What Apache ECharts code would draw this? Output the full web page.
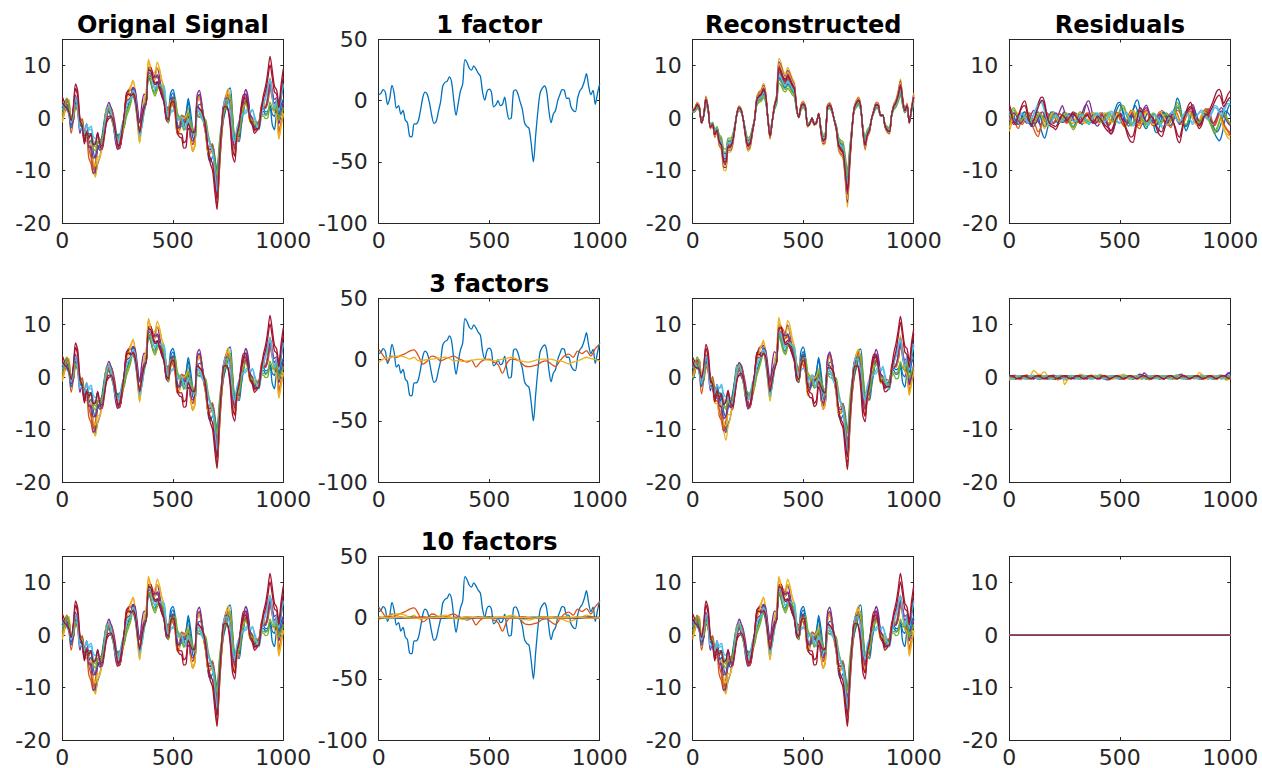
<!DOCTYPE html>
<html>
<head>
<meta charset="utf-8">
<title>Factor decomposition of multichannel signal</title>
<script src="https://cdn.jsdelivr.net/npm/echarts@6/dist/echarts.min.js"></script>
<style>
  html, body { margin: 0; padding: 0; background: #ffffff; }
  #chart { width: 1262px; height: 768px; }
</style>
</head>
<body>
<div id="chart"></div>
<script>
// ---- data -------------------------------------------------------------
// Sample spacing of the stored curves (samples 0..1000).
const SAMPLE_STEP = 10;

// First extracted factor (sample 0..1000, step 10).
const factor1 = [
  5, 6, 9, 7, -3, 2, 12.5, 6, -6, -4,
  -11, -8, -15.7, -18, -29, -29.5, -19, -19, -16, -7,
  3, 7, 5, -2, -12, -18.5, -17, -9, -1, 12,
  15, 16, 19.5, 15, 0, -12, -2, 8, 13.5, 33.5,
  31, 26.5, 25, 28.5, 26, 22.5, 20, 7, 0.5, 7.6,
  9.5, 7, -5, -3.5, 0, -4, -3, 2.9, -8, -15,
  -14, 7.6, 8.8, 5.5, -1, -7, -18, -21, -22.5, -35,
  -50, -29, -9, 6, 10, 12, 7.6, -8, -18, -11,
  -8, 0, 5, 9, 8.5, 2, 2, -5, -8, -9,
  2, 8, 10.5, 15.5, 22, 12, 5, 8.5, -3, 6,
  14
];

// Second and third factors (sample 0..1000, step 20).
const FACTOR_STEP = 20;
const factor2 = [
  8.7, 3.5, -1, 3, 2, 3.5, 5, 7, 8, 3,
  -3.5, -1, 3, 2, -1, 0.5, 2, 3, 1, -0.5,
  -2, -0.5, -6, -2, 0, 0.5, -2, -4, -11, -3,
  0.5, 0, -1.5, -5, -5.7, -5, -4, -1.5, -1, -3.5,
  -5.5, -1, 3, 4.5, 2, 7, 5, 7.4, 3, 9,
  12.8
];
const factor3 = [
  -2, 0.5, 1.5, 2, 3, 3, 2, 0.5, 2, -1,
  -0.5, 0, 0.5, 1, 1.5, 2, 1, -1, -0.5, -1.5,
  -1, -0.3, 0, 0.5, 0, -0.3, -1, -0.5, 0.5, 1,
  2, 1, -1, -1.5, -2, -1, 0, 0.5, 0.5, 0.5,
  -0.5, -1, -2, -3.5, -2, -1, 0.5, 2, 1, 0,
  -1
];

// Factors 4..10 (sample 0..1000, step 50).
const MINOR_STEP = 50;
const factor4 = [0.5, -0.3, 0.4, -0.6, 0.2, 0.5, -0.4, 0.3, -0.2, 0.6, -0.3, 0.2, -0.5, 0.4, 0, -0.4, 0.5, -0.2, 0.3, -0.5, 0.2];
const factor5 = [-0.4, 0.3, -0.2, 0.5, -0.3, 0.2, 0.4, -0.5, 0.3, -0.1, 0.4, -0.4, 0.2, -0.3, 0.5, -0.2, 0.3, 0.4, -0.4, 0.2, -0.3];
const factor6 = [0.2, -0.5, 0.3, 0.1, -0.4, 0.5, -0.2, 0.3, -0.4, 0.2, 0.3, -0.5, 0.4, -0.1, 0.2, -0.3, 0.4, -0.5, 0.2, 0.3, -0.2];
const factor7 = [-0.2, 0.4, -0.3, 0.2, 0.5, -0.4, 0.1, -0.3, 0.4, -0.2, 0.3, 0.1, -0.4, 0.5, -0.3, 0.2, -0.1, 0.3, -0.4, 0.4, 0.1];
const factor8 = [0.3, 0.1, -0.4, 0.3, -0.2, 0.4, -0.5, 0.2, 0.1, -0.3, 0.5, -0.2, 0.3, -0.4, 0.2, 0.4, -0.3, 0.1, -0.2, 0.5, -0.4];
const factor9 = [-0.3, 0.5, 0.2, -0.4, 0.3, -0.1, 0.4, -0.3, 0.5, -0.4, 0.1, 0.3, -0.2, 0.4, -0.5, 0.3, 0.2, -0.4, 0.5, -0.1, 0.3];
const factor10 = [0.4, -0.2, 0.5, -0.3, -0.5, 0.3, 0.2, -0.4, 0.6, 0.1, -0.3, 0.5, -0.2, 0.3, -0.4, 0.6, -0.3, 0.2, 0.4, -0.5, 0.1];

// Loading of each of the 14 channels on the first factor.
const loadings1 = [0.26, 0.29, 0.34, 0.32, 0.2, 0.24, 0.3, 0.23, 0.27, 0.31, 0.29, 0.22, 0.25, 0.28];

// Residual left after the 1-factor model, one list per channel (step 10).
const residual1Ch1 = [
  -1.5, -0.5, 0.8, 1.2, 0.2, -1, -0.5, 0.6, 1, 0,
  -1, -1.6, -0.8, 0.5, -1.5, -3, -3.8, -2.5, -0.5, 0.8,
  1.2, 0.4, -0.6, -0.2, 0.8, 1.2, 0.5, -0.5, -0.3, 0.6,
  1, 0.2, -0.8, -1.2, -0.4, 0.5, 0.8, 0.2, -0.6, -1,
  -0.5, 0.4, 1, 0.6, -0.4, -1.2, -0.8, 0.5, 1.8, 2.8,
  3, 2, 0.5, -1, -1.5, -0.5, 1.5, 3, 3.5, 2,
  0, -1.5, -2, -1, 0.3, -0.8, -2.5, -2.8, -1.5, 0.2,
  1, 0.5, -0.6, -0.3, 1, 2.2, 3.8, 3, 0.8, -1.2,
  -2.4, -1.5, 0, 1, 0.6, -0.5, -1.2, -0.4, 0.8, 1.2,
  0.5, -0.8, -2, -3, -3.8, -4.3, -3.5, -1.5, 0.5, 2,
  2.8
];
const residual1Ch2 = [
  0.5, 1, 0.2, -1.2, -2, -1, 0.5, 1.2, 0.6, -0.5,
  -1.2, -2, -3, -3.5, -2.2, -0.5, 0.8, 1, 0.2, -0.6,
  -1, -0.3, 0.5, 0.8, 0.2, -0.5, -0.8, -0.2, 0.6, 0.9,
  0.4, -0.4, -1, -0.6, 0.3, 1, 0.6, -0.3, -0.8, -0.4,
  0.4, 1, 0.8, -0.2, -1, -1.5, -0.8, 0.4, 1.2, 0.8,
  -0.2, -1, -1.6, -0.8, 0.5, 1.5, 1, -0.4, -1.6, -2,
  -1, 0.5, 1.6, 1.2, 0, -1, -1.5, -0.6, 0.6, 1.5,
  1, -0.2, -1.2, -1.8, -1, 0.4, 1.5, 1.2, 0, -1.2,
  -1.5, -0.5, 0.8, 1.5, 0.8, -0.6, -1.5, -1, 0.4, 1.4,
  1.8, 0.8, -0.8, -1.4, -0.5, 0.8, 0.4, -1, -2, -2.6,
  -3.4
];
const residual1Ch3 = [
  -2.5, -1.2, 0.2, 0.8, 0.2, -0.8, -0.2, 0.8, 1.2, 0.4,
  -0.6, -1, -0.4, 0.5, 0.2, -1.2, -2, -1, 0.4, 1,
  0.6, -0.2, -0.8, -0.4, 0.5, 1, 0.6, -0.4, -1.2, -0.8,
  0.2, 0.8, 0.5, -0.4, -1, -0.6, 0.2, 0.8, 0.6, -0.2,
  -0.8, -0.5, 0.4, 1, 0.6, -0.3, -0.8, -0.2, 0.6, 1,
  0.5, -0.5, -1.2, -1.5, -0.6, 0.8, 1.6, 1, -0.4, -1.2,
  -0.6, 0.6, 1.4, 0.8, -0.4, -1, -0.5, 0.5, 1.2, 0.6,
  -0.4, -1.2, -0.8, 0.2, 1, 1.5, 0.8, -0.3, -1, -0.6,
  0.3, 1, 1.4, 0.6, -0.6, -1.4, -1, 0.2, 1, 1.6,
  1, -0.2, -1, -0.8, 0.2, 0.8, -0.4, -1.8, -3, -3.8,
  -4
];
const residual1Ch4 = [
  0.5, -0.5, -1.2, -0.6, 0.4, 1, 0.4, -0.5, -1, -0.2,
  0.8, 1.5, 0.8, -0.5, -1.2, -0.6, 0.4, 1, 0.5, -0.4,
  -1, -0.6, 0.4, 1.5, 2.4, 1.2, -0.2, -0.8, -0.4, 0.3,
  0.6, 0.2, -0.4, 0.2, 1.5, 3, 3.3, 2, 0, -1.2,
  -1.5, -0.8, 0.2, 0.5, -0.5, -2, -3, -2.5, -1, 0.5,
  1, 0.6, -0.4, -1, -0.4, 0.5, 0.2, -0.8, -1.2, -0.2,
  1, 2, 2.5, 1.5, 0, -1, -0.8, 0.4, 1, 0.4,
  -0.6, -1.2, -0.6, 0.4, 1, 0.6, -0.4, -1.2, -0.8, 0.4,
  1.2, 1.8, 2.2, 2.6, 1.5, 0, -1, -0.6, 0.5, 1,
  0.6, -0.6, -1.5, -1, 0.4, 1.5, 2, 1.2, 0, -1,
  -1.4
];
const residual1Ch5 = [
  0.5, 1.5, 2, 1.2, 0, -0.8, -0.6, 0.4, 1, 0.4,
  -0.5, -1, -0.4, 0.5, 1, 0.4, -0.6, -1.2, -0.8, 0.2,
  0.8, 0.4, -0.4, -0.8, -0.2, 0.6, 0.3, -0.8, -1.6, -2.2,
  -1.6, -0.4, 0.6, 1, 0.4, -0.6, -1.2, -0.6, 0.4, 1,
  0.6, -0.2, -0.8, -0.3, 0.6, 1.2, 0.6, -0.6, -1, 0.2,
  1.5, 2.5, 2.2, 0.8, -0.6, -1.5, -1, 0.4, 1.4, 1,
  0, -1, -1.6, -1, 0.2, 1, 0.6, -0.6, -1.4, -1,
  0.2, 1, 0.6, -0.6, -0.2, 1.5, 3, 2.2, 0.4, -1,
  -1.5, -0.6, 0.6, 1, 0.2, -0.8, -1.2, -0.4, 0.6, 0.8,
  0, -1.2, -2.2, -3, -2.2, -0.8, 0.6, 1.2, 0.6, -0.4,
  -1.2
];
const residual1Ch6 = [
  1, 0.4, -0.6, -1, -0.4, 0.6, 1, 0.4, -0.6, -1,
  -0.4, 0.8, 1.8, 2.8, 3.5, 3.2, 1.6, -0.4, -1.5, -1,
  0, 0.8, 0.5, -0.3, -0.8, -0.2, 0.6, 0.9, 0.4, -0.4,
  -0.8, -0.4, 0.4, 0.8, 0.3, -0.6, -1.2, -0.8, 0.2, 0.8,
  1, 0.4, -0.5, -1, -0.4, 0.6, 1.4, 1, 0, -0.8,
  -1, -0.2, 0.8, 1.2, 0.4, -0.8, -1.5, -1, 0.2, 1,
  0.8, -0.2, -1, -1.4, -0.6, 0.4, 0.8, 0.2, -1, -1.8,
  -2, -1.2, 0, 1, 1.4, 0.6, -0.6, -1, -0.2, 0.8,
  1.4, 0.8, -0.4, -1.2, -0.6, 0.4, 1.2, 1.6, 1, 0.2,
  -0.2, 0.6, 1.6, 2.4, 2.2, 1.4, 1, 1.8, 2.8, 3.4,
  3.2
];
const residual1Ch7 = [
  2.6, 1.2, -0.8, -1.2, 0.2, 1.6, 2.8, 3.3, 1.8, -0.4,
  -1.6, -0.8, 0.8, 2.5, 3.8, 4, 3, 0.6, -1.2, -1.6,
  -1.8, -2.2, -1.4, -0.2, 0.6, 0.2, -0.6, -0.2, 0.8, 1.2,
  0.6, -0.4, -1, -0.5, 0.4, 0.8, 0.3, -0.6, -1, -0.4,
  0.4, 0.2, -0.8, -1.6, -2.2, -2.6, -3, -2.2, -0.8, 0.4,
  0.8, 0, -1.2, -2.5, -3.8, -4.5, -4.6, -2.8, 0, 2,
  1.6, 0.2, -0.8, -0.4, 0.6, 0.2, -1.2, -2.4, -3.2, -3.5,
  -2.4, -0.8, 0.4, 0.8, -0.4, -2, -4, -4.7, -3, -0.6,
  1.2, 2.4, 3, 1.8, 0, -1.2, -2, -1.4, 0, 1,
  1.2, 2, 3, 4.2, 5.2, 5.5, 4.6, 2.8, 3.6, 4.6,
  5.2
];
const residual1Ch8 = [
  0.8, 1.4, 0.6, -0.6, -1.2, -0.4, 0.8, 1.2, 0.2, -1,
  -1.4, -0.6, 0.6, 1.2, 0.4, -0.8, -1.6, -1, 0.4, 1.2,
  0.8, -0.2, -1, -0.8, 0.2, 1, 0.8, -0.2, -1.2, -1.6,
  -0.8, 0.4, 1.2, 0.8, -0.2, -0.8, -0.4, 0.4, 1, 0.6,
  -0.2, -0.8, -0.6, 0.2, 0.8, 0.4, -0.6, -0.4, 0.8, 2,
  2.6, 1.6, 0, -1.2, -0.8, 0.6, 1.6, 2.4, 1.4, -0.2,
  -1.2, -0.6, 0.6, 1.2, 0.4, -0.8, -1.6, -1.2, 0, 0.8,
  1.2, 0.4, -0.8, -1.4, -0.6, 0.8, 2, 1.6, 0.2, -1,
  -1.6, -0.8, 0.4, 1.2, 0.8, -0.4, -1.2, -0.6, 0.6, 1.4,
  1.2, 0, -1.2, -2.2, -2.6, -2, -0.8, 0.6, 1.4, 1,
  0.4
];
const residual1Ch9 = [
  -1, -0.4, 0.6, 1, 0.2, -0.8, -1.2, -0.4, 0.6, 1,
  0.6, -0.4, -1.6, -2.6, -2, -0.6, 0.6, 1, 0.4, -0.4,
  -0.8, -0.2, 0.6, 0.8, 0.2, -0.6, -1, -0.4, 0.4, 0.8,
  0.6, -0.2, -0.8, -0.6, 0.2, 0.8, 1, 0.4, -0.4, -0.8,
  -0.4, 0.4, 0.8, 0.4, -0.4, -1, -0.6, 0.4, 1.2, 1,
  0, -1, -1.4, -0.6, 0.6, 1.2, 0.6, -0.6, -1.4, -1,
  0.2, 1.2, 1.4, 0.4, -0.8, -1.4, -0.8, 0.4, 1.2, 0.8,
  -0.2, -1, -1.4, -0.6, 0.6, 1.2, 0.8, -0.4, -1.2, -0.8,
  0.2, 1, 1.4, 0.6, -0.6, -1.2, -0.6, 0.6, 1.4, 1.8,
  1.2, 0.2, -0.8, -1.2, -0.4, 0.6, 0.2, -1, -1.8, -2.4,
  -2.8
];
const residual1Ch10 = [
  -1.8, -0.6, 0.8, 1.4, 0.6, -0.4, -0.8, 0, 0.8, 0.6,
  -0.2, -0.8, -0.2, 0.8, 1, 0, -1.4, -1.6, -0.4, 0.8,
  1, 0.2, -0.6, -0.8, 0, 0.8, 1, 0.2, -0.8, -1,
  -0.2, 0.8, 1.2, 0.4, -0.6, -1, -0.4, 0.6, 1, 0.4,
  -0.6, -1, -0.2, 0.8, 1, 0.2, -0.6, -0.8, 0, 0.8,
  0.6, -0.4, -1, -0.8, 0.2, 1.2, 1.4, 0.4, -0.8, -1.4,
  -0.8, 0.4, 1.2, 1, -0.2, -1.2, -1, 0.2, 1, 0.8,
  -0.2, -1, -1.2, -0.2, 0.8, 1.2, 0.4, -0.6, -1.2, -0.4,
  0.6, 1.2, 0.8, -0.2, -1, -1.2, -0.4, 0.6, 1.2, 1,
  0.2, -0.6, -1.2, -0.6, 0.4, 0.6, -0.6, -2, -2.8, -3.2,
  -3.4
];
const residual1Ch11 = [
  -0.6, 0.4, 1, 0.6, -0.4, -1, -0.6, 0.4, 1, 0.6,
  -0.2, -0.8, -1, -0.2, 0.8, 1.2, 0.4, -0.6, -1, -0.4,
  0.4, 1, 0.6, -0.2, -0.8, -0.6, 0.2, 0.8, 0.6, -0.2,
  -0.8, -0.6, 0.2, 1, 2.2, 2.6, 1.6, 0.2, -0.8, -1,
  -0.6, 0.2, 0.6, 0, -1, -1.8, -2.4, -1.8, -0.6, 0.4,
  0.8, 0.4, -0.4, -0.8, -0.2, 0.6, 0.4, -0.4, -0.8, 0,
  0.8, 1.6, 2, 1.2, 0, -0.8, -0.6, 0.2, 0.8, 0.4,
  -0.4, -1, -0.6, 0.2, 0.8, 0.4, -0.4, -1, -0.6, 0.2,
  0.8, 1.4, 1.8, 2, 1.2, 0.2, -0.6, -0.4, 0.4, 0.8,
  0.4, -0.4, -1, -0.6, 0.2, 1, 1.4, 0.8, -0.2, -0.8,
  -1
];
const residual1Ch12 = [
  -0.4, 0.8, 1.6, 1, 0.2, -0.4, -0.2, 0.6, 0.8, 0.2,
  -0.6, -0.8, -0.2, 0.6, 0.8, 0.2, -0.4, -0.8, -0.6, 0,
  0.6, 0.6, 0, -0.6, -0.4, 0.4, 0.6, -0.2, -1.2, -1.8,
  -1.2, -0.2, 0.6, 0.8, 0.2, -0.4, -0.8, -0.4, 0.4, 0.8,
  0.4, -0.4, -0.8, -0.2, 0.6, 1, 0.4, -0.6, -0.8, 0.4,
  1.2, 2, 1.8, 0.6, -0.4, -1.2, -0.8, 0.4, 1, 0.6,
  -0.2, -0.8, -1.2, -0.6, 0.4, 0.8, 0.4, -0.4, -1, -0.6,
  0.4, 0.8, 0.4, -0.4, 0, 1.2, 2.4, 1.8, 0.2, -0.8,
  -1.2, -0.4, 0.6, 0.8, 0, -0.6, -0.8, -0.2, 0.6, 0.6,
  -0.2, -1, -1.8, -2.4, -1.8, -0.6, 0.4, 0.8, 0.2, -0.6,
  -1
];
const residual1Ch13 = [
  1.4, 0.6, -0.4, -0.8, -0.2, 0.6, 0.8, 0.2, -0.6, -0.8,
  -0.2, 0.6, 1.6, 2.4, 3, 2.6, 1.2, -0.2, -1.2, -0.8,
  0.2, 0.6, 0.2, -0.4, -0.6, 0, 0.6, 0.6, 0, -0.6,
  -0.6, -0.2, 0.4, 0.6, 0, -0.6, -1, -0.6, 0.2, 0.6,
  0.8, 0.2, -0.6, -0.8, -0.2, 0.6, 1, 0.6, -0.2, -0.6,
  -0.8, 0, 0.6, 0.8, 0.2, -0.6, -1.2, -0.8, 0.2, 0.8,
  0.6, -0.2, -0.8, -1, -0.4, 0.4, 0.6, 0, -0.8, -1.4,
  -1.6, -0.8, 0.2, 0.8, 1, 0.4, -0.4, -0.8, 0, 0.6,
  1, 0.4, -0.4, -0.8, -0.2, 0.6, 1, 1.2, 0.6, 0,
  -0.4, 0.4, 1.2, 2, 1.8, 1, 0.6, 1.2, 2.2, 2.8,
  2.6
];
const residual1Ch14 = [
  1.8, 0.6, -0.6, -0.8, 0.4, 1.4, 2.2, 2.4, 1.2, -0.4,
  -1.2, -0.4, 0.8, 2, 3, 3.4, 2.4, 0.4, -0.8, -1.2,
  -1.4, -1.6, -1, 0, 0.6, 0.2, -0.4, 0, 0.6, 0.8,
  0.4, -0.2, -0.8, -0.4, 0.2, 0.6, 0.2, -0.4, -0.8, -0.2,
  0.4, 0, -0.6, -1.2, -1.6, -2, -2.4, -1.6, -0.4, 0.4,
  0.6, -0.2, -1, -2, -3, -3.6, -3.4, -1.8, 0.2, 1.4,
  1.2, 0, -0.6, -0.2, 0.4, 0, -1, -1.8, -2.4, -2.6,
  -1.6, -0.4, 0.4, 0.4, -0.6, -1.6, -3, -3.6, -2.2, -0.2,
  1, 1.8, 2.2, 1.2, -0.2, -1, -1.4, -0.8, 0.2, 0.6,
  0.8, 1.4, 2.2, 3.2, 4, 4.4, 3.6, 2.2, 2.8, 3.6,
  4
];

// Residual left after the 3-factor model, one list per channel (step 10).
const residual3Ch1 = [
  0.4, 0.2, -0.2, -0.3, 0, 0.2, 0.1, -0.2, -0.3, 0, 0.2, 0.3, 0, -0.3, -0.4, -0.1, 0.2, 0.3, 0.1, -0.2,
  -0.3, 0, 0.3, 0.2, -0.1, -0.3, -0.2, 0.1, 0.3, 0.2, 0, -0.2, -0.3, 0, 0.2, 0.3, 0.1, -0.2, -0.2, 0,
  0.2, 0.1, -0.1, -0.3, -0.2, 0.1, 0.3, 0.2, 0, -0.2, -0.3, -0.1, 0.2, 0.3, 0.1, -0.2, -0.3, 0, 0.2, 0.3,
  0.1, -0.2, -0.3, -0.1, 0.2, 0.3, 0, -0.2, -0.1, 0.2, 0.3, 0.1, -0.2, -0.3, 0, 0.3, 0.4, 0.1, -0.2, -0.3,
  -0.1, 0.2, 0.3, 0, -0.2, -0.1, 0.2, 0.3, 0.1, -0.2, -0.3, 0, 0.2, 0.3, 0.1, -0.2, -0.3, -0.1, 0.2, 0.4,
  0.3
];
const residual3Ch2 = [
  -0.3, -0.4, -0.1, 0.2, 0.3, 0.1, -0.2, -0.3, 0, 0.2, 0.3, 0.1, -0.2, -0.4, -0.2, 0.1, 0.3, 0.2, -0.1, -0.3,
  -0.2, 0.1, 0.3, 0.2, -0.1, -0.2, 0, 0.2, 0.1, -0.2, -0.3, 0, 0.3, 0.2, -0.1, -0.3, -0.2, 0.1, 0.3, 0.1,
  -0.2, -0.3, 0, 0.2, 0.3, 0.1, -0.2, -0.3, -0.1, 0.2, 0.3, 0.1, -0.2, -0.2, 0.1, 0.3, 0.2, -0.1, -0.3, -0.2,
  0.1, 0.3, 0.2, -0.1, -0.3, -0.2, 0.1, 0.2, 0, -0.2, -0.3, 0, 0.2, 0.3, 0.1, -0.2, -0.3, -0.1, 0.2, 0.3,
  0.1, -0.2, -0.3, 0, 0.2, 0.2, 0, -0.2, -0.3, 0, 0.2, 0.3, 0.1, -0.2, -0.3, 0, 0.2, 0.3, 0, -0.3,
  -0.2
];
const residual3Ch3 = [
  -0.6, -0.3, 0.2, 0.4, 0, -0.5, -0.3, 0.3, 0.5, 0.2, 0.6, 1.3, 1, 0.5, 0.3, 0.8, 1, 0.4, -0.2, 0.3,
  0.5, 0, -0.6, -0.2, 0.4, -1.4, -0.8, 0.2, 0.4, 0, -0.3, 0.2, 0.6, 0.4, -0.2, -0.3, 0.1, 0.5, 0.2, -0.2,
  0.3, 0.6, 0.4, -0.1, -0.4, -0.2, 0.2, 0.1, -0.3, -0.2, 0.2, 0.5, 0.6, 0.1, -0.3, -0.4, 0, 0.3, 0.2, -0.2,
  -0.4, 0, 0.3, -0.5, -0.4, 0.2, 0.4, 0, -0.3, -0.2, 0.2, 0.3, -0.1, -0.3, 0, 0.3, 0.5, 0.2, -0.2, -0.3,
  -0.1, 0.3, 0.2, -0.1, 0, 0.4, 0.9, 0.5, -0.1, -0.3, -0.2, 0.2, 0.4, 0.1, -0.3, -0.2, 0.2, 0.3, -0.6, -0.4,
  -0.2
];
const residual3Ch4 = [
  0.2, 0, -0.2, -0.3, 0, 0.3, 0.2, -0.1, -0.3, -0.2, 0.1, 0.3, 0.2, -0.1, -0.3, -0.2, 0.1, 0.2, 0, -0.2,
  -0.3, -0.1, 0.2, 0.3, 0.1, -0.2, -0.3, 0, 0.2, 0.1, -0.1, -0.3, -0.2, 0.1, 0.3, 0.2, -0.1, -0.3, -0.1, 0.2,
  0.3, 0.1, -0.2, -0.3, -0.5, -0.3, 0.1, 0.3, 0.2, -0.1, -0.3, -0.2, 0.1, 0.3, 0.2, -0.1, -0.3, -0.1, 0.2, 0.5,
  0.4, 0.8, 0.5, 0.1, -0.2, -0.3, 0, 0.2, 0.1, -0.2, -0.3, -0.1, 0.2, 0.3, 0, -0.2, 0.1, 0.5, 0.6, 0.2,
  -0.2, -0.3, 0, 0.2, 0.3, 0, -0.2, -0.3, -0.1, 0.2, 0.3, 0.1, -0.2, -0.3, 0, 0.3, 0.4, 0.2, 0.3, 0.7,
  1
];
const residual3Ch5 = [
  -0.2, 0.2, 0.4, 0.2, -0.1, -0.3, -0.2, 0.1, 0.3, 0.2, -0.1, -0.3, -0.2, 0.1, 0.3, 0.2, -0.1, -0.3, -0.4, -0.2,
  0.1, 0.3, 0.2, -0.1, -0.3, -0.2, 0.1, 0.3, 0.2, 0, -0.2, -0.3, 0, 0.2, 0.3, 0.1, -0.2, -0.3, -0.1, 0.2,
  0.3, 0.2, -0.1, -0.3, -0.2, 0.1, 0.3, 0.2, -0.1, -0.2, 0.1, 0.3, 0.2, -0.1, -0.3, -0.2, 0.1, 0.3, 0.1, -0.2,
  -0.3, -0.1, 0.2, 0.3, 0.1, -0.2, -0.3, 0, 0.2, 0.3, 0.1, -0.2, -0.3, -0.1, 0.2, 0.3, 0.1, -0.2, -0.3, -0.1,
  0.2, 0.3, 0.1, -0.2, -0.3, 0, 0.2, 0.3, 0.1, -0.2, -0.3, -0.1, 0.2, 0.3, 0.1, -0.2, -0.3, 0, 0.2, 0.1,
  -0.2
];
const residual3Ch6 = [
  0.1, -0.2, -0.3, 0, 0.2, 0.3, 0.1, -0.2, -0.4, -0.1, 0.2, 0.4, 0.1, -0.2, -0.3, -0.1, 0.2, 0.3, 0.2, -0.1,
  -0.3, -0.2, 0.1, 0.4, 0.2, -0.1, -0.3, -0.2, 0.1, 0.2, 0.1, -0.2, -0.4, -0.1, 0.2, 0.3, 0.1, -0.2, -0.3, 0,
  0.2, 0.4, 0.1, -0.2, -0.3, -0.1, 0.2, 0.3, 0.1, -0.2, -0.4, -0.1, 0.2, 0.3, 0.1, -0.2, -0.3, -0.1, 0.2, 0.4,
  0.1, -0.2, -0.3, 0, 0.2, 0.3, 0.1, -0.2, -0.4, -0.1, 0.2, 0.3, 0.1, -0.2, -0.3, -0.1, 0.2, 0.4, 0.1, -0.2,
  -0.3, -0.1, 0.2, 0.3, 0.1, -0.2, -0.4, -0.1, 0.2, 0.3, 0.1, -0.2, -0.3, -0.1, 0.2, 0.4, 0.1, -0.2, -0.3, -0.1,
  0.2
];
const residual3Ch7 = [
  0.3, 0.1, -0.2, -0.3, -0.1, 0.2, 0.3, 0.2, -0.1, -0.3, -0.2, 0.1, 0.3, 0.2, -0.1, -0.3, -0.2, 0.1, 0.2, 0,
  -0.3, -0.4, -0.1, 0.2, 0.3, 0.1, -0.2, -0.3, 0, 0.2, 0.3, 0.1, -0.2, -0.3, -0.1, 0.2, 0.3, 0.1, -0.2, -0.2,
  0.1, 0.3, 0.2, -0.1, -0.3, -0.2, 0.1, 0.3, 0.2, -0.1, -0.3, -0.2, 0.1, 0.3, 0.2, -0.1, -0.3, -0.1, 0.2, 0.3,
  0.2, -0.1, -0.3, -0.2, 0.1, 0.3, 0.2, -0.1, -0.3, -0.1, 0.2, 0.3, 0.1, -0.2, -0.3, -0.1, 0.2, 0.3, 0.1, -0.2,
  -0.3, -0.2, 0.1, 0.3, 0.2, -0.1, -0.3, -0.1, 0.2, 0.3, 0.1, -0.2, -0.3, -0.1, 0.2, 0.3, 0.2, -0.1, -0.3, -0.1,
  0.2
];
const residual3Ch8 = [
  -0.2, 0.1, 0.3, 0.2, -0.1, -0.3, -0.1, 0.2, 0.3, 0.1, -0.2, -0.3, 0, 0.2, 0.3, 0, -0.2, -0.3, -0.1, 0.2,
  0.3, 0.1, -0.2, -0.3, 0, 0.3, 0.2, -0.1, -0.3, -0.1, 0.2, 0.3, 0.1, -0.2, -0.3, 0, 0.2, 0.3, 0.1, -0.2,
  -0.3, -0.1, 0.2, 0.3, 0.1, -0.2, -0.2, 0.1, 0.3, 0.2, -0.1, -0.3, -0.2, 0.1, 0.3, 0.1, -0.2, -0.3, 0, 0.2,
  0.3, 0.1, -0.2, -0.3, -0.1, 0.2, 0.3, 0.1, -0.2, -0.3, 0, 0.2, 0.3, 0, -0.2, -0.3, -0.1, 0.2, 0.3, 0.1,
  -0.2, -0.3, 0, 0.2, 0.3, 0.1, -0.2, -0.3, -0.1, 0.2, 0.3, 0.1, -0.2, -0.3, 0, 0.2, 0.3, 0.1, -0.2, -0.3,
  -0.1
];
const residual3Ch9 = [
  0.2, 0.3, 0, -0.2, -0.3, -0.1, 0.2, 0.3, 0.1, -0.2, -0.3, -0.1, 0.2, 0.4, 0.2, -0.1, -0.3, -0.2, 0.1, 0.3,
  0.2, -0.1, -0.3, -0.2, 0.1, 0.3, 0.1, -0.2, -0.3, 0, 0.2, 0.3, 0.1, -0.2, -0.3, -0.1, 0.2, 0.3, 0, -0.2,
  -0.3, 0, 0.2, 0.3, 0.1, -0.2, -0.3, -0.1, 0.2, 0.3, 0.1, -0.2, -0.4, -0.1, 0.2, 0.3, 0.1, -0.2, -0.3, 0,
  0.2, 0.3, 0, -0.2, -0.3, -0.1, 0.2, 0.3, 0.1, -0.2, -0.3, -0.1, 0.2, 0.3, 0.1, -0.2, -0.3, 0, 0.2, 0.3,
  0.1, -0.2, -0.3, -0.1, 0.2, 0.3, 0.1, -0.2, -0.3, 0, 0.2, 0.3, 0.1, -0.2, -0.3, -0.1, 0.2, 0.3, 0.1, -0.2,
  -0.3
];
const residual3Ch10 = [
  -0.3, 0, 0.3, 0.2, -0.2, -0.4, -0.1, 0.3, 0.4, 0.1, -0.2, -0.3, 0.1, 0.5, 0.6, 0.2, -0.2, -0.3, 0, 0.3,
  0.2, -0.2, -0.4, -0.1, 0.2, -0.5, -0.6, -0.1, 0.3, 0.2, -0.1, -0.2, 0.2, 0.5, 0.3, -0.1, -0.3, -0.1, 0.3, 0.4,
  0.1, -0.2, -0.3, 0, 0.3, 0.2, -0.2, -0.3, 0, 0.2, 0.4, 0.3, -0.1, -0.3, -0.2, 0.1, 0.3, 0.1, -0.2, -0.3,
  0, 0.2, 0.1, -0.2, -0.3, 0, 0.3, 0.2, -0.1, -0.3, -0.1, 0.2, 0.3, 0, -0.2, -0.3, 0, 0.3, 0.2, -0.1,
  -0.2, 0.1, 0.3, 0.2, -0.1, -0.2, 0.3, 0.6, 0.3, -0.1, -0.3, -0.1, 0.2, 0.3, 0, -0.2, -0.1, 0.2, -0.3, -0.5,
  -0.3
];
const residual3Ch11 = [
  -0.1, 0.2, 0.3, 0.1, -0.2, -0.3, -0.1, 0.2, 0.3, 0.1, -0.2, -0.3, -0.1, 0.2, 0.3, 0.1, -0.2, -0.3, -0.1, 0.2,
  0.3, 0.2, -0.1, -0.3, -0.2, 0.1, 0.3, 0.2, -0.1, -0.3, -0.2, 0.1, 0.3, 0.2, -0.1, -0.3, -0.2, 0.1, 0.2, 0,
  -0.2, -0.3, -0.1, 0.2, -0.3, -0.5, -0.2, 0.2, 0.3, 0.1, -0.2, -0.3, -0.1, 0.2, 0.3, 0.1, -0.2, -0.1, 0.3, 0.6,
  0.5, 0.3, 0.1, -0.2, -0.3, -0.1, 0.2, 0.3, 0.1, -0.2, -0.3, -0.1, 0.2, 0.3, 0.1, -0.1, 0.2, 0.4, 0.3, 0,
  -0.2, -0.3, -0.1, 0.2, 0.3, 0.1, -0.2, -0.3, -0.1, 0.2, 0.3, 0.1, -0.2, -0.3, -0.1, 0.2, 0.3, 0.2, 0.4, 0.8,
  0.6
];
const residual3Ch12 = [
  0.2, -0.1, -0.3, -0.2, 0.1, 0.3, 0.2, -0.1, -0.3, -0.2, 0.1, 0.3, 0.2, -0.1, -0.3, -0.2, 0.1, 0.3, 0.2, -0.1,
  -0.3, -0.2, 0.1, 0.3, 0.2, -0.1, -0.3, -0.2, 0.1, 0.3, 0.2, -0.1, -0.3, -0.2, 0.1, 0.3, 0.2, -0.1, -0.3, -0.2,
  0.1, 0.3, 0.2, -0.1, -0.3, -0.2, 0.1, 0.3, 0.2, -0.1, -0.3, -0.2, 0.1, 0.3, 0.2, -0.1, -0.3, -0.2, 0.1, 0.3,
  0.2, -0.1, -0.3, -0.2, 0.1, 0.3, 0.2, -0.1, -0.3, -0.2, 0.1, 0.3, 0.2, -0.1, -0.3, -0.2, 0.1, 0.3, 0.2, -0.1,
  -0.3, -0.2, 0.1, 0.3, 0.2, -0.1, -0.3, -0.2, 0.1, 0.3, 0.2, -0.1, -0.3, -0.2, 0.1, 0.3, 0.2, -0.1, -0.3, -0.2,
  0.1
];
const residual3Ch13 = [
  -0.1, -0.3, -0.2, 0.1, 0.3, 0.2, -0.1, -0.3, -0.1, 0.2, 0.3, 0.1, -0.2, -0.3, -0.1, 0.2, 0.3, 0.1, -0.2, -0.3,
  0, 0.2, 0.3, 0.1, -0.2, -0.3, -0.1, 0.2, 0.3, 0.1, -0.2, -0.3, 0, 0.2, 0.3, 0.1, -0.2, -0.3, -0.1, 0.2,
  0.3, 0.1, -0.2, -0.3, -0.1, 0.2, 0.3, 0.1, -0.2, -0.3, 0, 0.2, 0.3, 0.1, -0.2, -0.3, -0.1, 0.2, 0.3, 0.1,
  -0.2, -0.3, 0, 0.2, 0.3, 0.1, -0.2, -0.3, -0.1, 0.2, 0.3, 0.1, -0.2, -0.3, 0, 0.2, 0.3, 0.1, -0.2, -0.3,
  -0.1, 0.2, 0.3, 0.1, -0.2, -0.3, 0, 0.2, 0.3, 0.1, -0.2, -0.3, -0.1, 0.2, 0.3, 0.1, -0.2, -0.3, 0, 0.2,
  0.3
];
const residual3Ch14 = [
  0.2, 0.3, 0.1, -0.2, -0.3, -0.1, 0.2, 0.3, 0.1, -0.2, -0.3, 0, 0.2, 0.3, 0.1, -0.2, -0.3, -0.1, 0.2, 0.3,
  0.1, -0.2, -0.3, 0, 0.2, 0.3, 0.1, -0.2, -0.3, -0.1, 0.2, 0.3, 0.1, -0.2, -0.3, 0, 0.2, 0.3, 0.1, -0.2,
  -0.3, -0.1, 0.2, 0.3, 0.1, -0.2, -0.3, 0, 0.2, 0.3, 0.1, -0.2, -0.3, -0.1, 0.2, 0.3, 0.1, -0.2, -0.3, 0,
  0.2, 0.3, 0.1, -0.2, -0.3, -0.1, 0.2, 0.3, 0.1, -0.2, -0.3, 0, 0.2, 0.3, 0.1, -0.2, -0.3, -0.1, 0.2, 0.3,
  0.1, -0.2, -0.3, 0, 0.2, 0.3, 0.1, -0.2, -0.3, -0.1, 0.2, 0.3, 0.1, -0.2, -0.3, 0, 0.2, 0.3, 0.1, -0.2,
  -0.3
];

const residual1 = [residual1Ch1, residual1Ch2, residual1Ch3, residual1Ch4, residual1Ch5, residual1Ch6, residual1Ch7,
                   residual1Ch8, residual1Ch9, residual1Ch10, residual1Ch11, residual1Ch12, residual1Ch13, residual1Ch14];
const residual3 = [residual3Ch1, residual3Ch2, residual3Ch3, residual3Ch4, residual3Ch5, residual3Ch6, residual3Ch7,
                   residual3Ch8, residual3Ch9, residual3Ch10, residual3Ch11, residual3Ch12, residual3Ch13, residual3Ch14];

// Panel titles and tick values.
const columnTitles = ['Orignal Signal', '1 factor', 'Reconstructed', 'Residuals'];
const factorTitles = ['1 factor', '3 factors', '10 factors'];
const xTicks = [0, 500, 1000];
const signalTicks = [-20, -10, 0, 10];
const factorTicks = [-100, -50, 0, 50];

// ---- derived signals (signal = reconstruction + residual) ---------------
const reconstructed1 = loadings1.map(l => factor1.map(f => l * f));
const originalSignal = reconstructed1.map((rec, c) => rec.map((v, i) => v + residual1[c][i]));
const reconstructed3 = originalSignal.map((sig, c) => sig.map((v, i) => v - residual3[c][i]));
const reconstructed10 = originalSignal.map(sig => sig.slice());
const reconstructions = [reconstructed1, reconstructed3, reconstructed10];
const residuals = reconstructions.map(rec => originalSignal.map((sig, c) => sig.map((v, i) => v - rec[c][i])));

const toPairs = (vals, step) => vals.map((v, i) => [i * step, v]);

// ---- layout & style ---------------------------------------------------
const COLORS = ['#0072BD', '#D95319', '#EDB120', '#7E2F8E', '#77AC30', '#4DBEEE', '#A2142F'];
const AXIS_COLOR = '#262626';
const colLeft = [62.3, 378.7, 692.7, 1009.3];
const rowTop = [39.5, 298.5, 556.5];
const PW = 221, PH = 183.6;

const grids = [], xAxes = [], yAxes = [], series = [], titles = [];

function addPanel(r, c, yMin, yMax, yTicks, lines) {
  const g = grids.length;
  grids.push({ left: colLeft[c], top: rowTop[r], width: PW, height: PH, show: false, containLabel: false });
  const interval = yTicks[1] - yTicks[0];
  const labelStyle = { color: AXIS_COLOR, fontFamily: 'DejaVu Sans', fontSize: 22 };
  const common = {
    gridIndex: g, type: 'value', splitLine: { show: false },
    axisLine: { show: true, onZero: false, lineStyle: { color: AXIS_COLOR, width: 1 } },
    axisTick: { show: true, inside: true, length: 3, lineStyle: { color: AXIS_COLOR, width: 1 } }
  };
  const xRange = { min: xTicks[0], max: xTicks[xTicks.length - 1], interval: xTicks[1] - xTicks[0] };
  xAxes.push(Object.assign({}, common, xRange, {
    position: 'bottom',
    axisLabel: Object.assign({ margin: 6, formatter: v => String(v) }, labelStyle)
  }));
  xAxes.push(Object.assign({}, common, xRange, { position: 'top', axisLabel: { show: false } }));
  const tickSet = new Set(yTicks);
  const yRange = { min: yMin, max: yMax, interval: interval };
  yAxes.push(Object.assign({}, common, yRange, {
    position: 'left',
    axisLabel: Object.assign({ margin: 11, formatter: v => (tickSet.has(v) ? String(v) : '') }, labelStyle)
  }));
  yAxes.push(Object.assign({}, common, yRange, { position: 'right', axisLabel: { show: false } }));
  lines.forEach(ln => {
    series.push({
      type: 'line', xAxisIndex: 2 * g, yAxisIndex: 2 * g,
      data: ln.data, showSymbol: false, symbol: 'none', silent: true, smooth: 0.3,
      lineStyle: { color: ln.color, width: 1.3 }
    });
  });
}

function addTitle(r, c, text) {
  titles.push({
    text: text, left: colLeft[c] + PW / 2, top: rowTop[r] - 27, textAlign: 'center', padding: 0,
    textStyle: { fontFamily: 'DejaVu Sans', fontWeight: 'bold', fontSize: 24, color: '#000000' }
  });
}

const channelLines = set => set.map((vals, c) => ({ data: toPairs(vals, SAMPLE_STEP), color: COLORS[c % COLORS.length] }));

const factorLines = [
  { data: toPairs(factor1, SAMPLE_STEP), color: COLORS[0] },
  { data: toPairs(factor2, FACTOR_STEP), color: COLORS[1] },
  { data: toPairs(factor3, FACTOR_STEP), color: COLORS[2] },
  { data: toPairs(factor4, MINOR_STEP), color: COLORS[3] },
  { data: toPairs(factor5, MINOR_STEP), color: COLORS[4] },
  { data: toPairs(factor6, MINOR_STEP), color: COLORS[5] },
  { data: toPairs(factor7, MINOR_STEP), color: COLORS[6] },
  { data: toPairs(factor8, MINOR_STEP), color: COLORS[0] },
  { data: toPairs(factor9, MINOR_STEP), color: COLORS[1] },
  { data: toPairs(factor10, MINOR_STEP), color: COLORS[2] }
];
const factorCounts = [1, 3, 10];

for (let r = 0; r < 3; r++) {
  addPanel(r, 0, -20, 15, signalTicks, channelLines(originalSignal));
  addPanel(r, 1, -100, 50, factorTicks, factorLines.slice(0, factorCounts[r]));
  addPanel(r, 2, -20, 15, signalTicks, channelLines(reconstructions[r]));
  addPanel(r, 3, -20, 15, signalTicks, channelLines(residuals[r]));
}

columnTitles.forEach((t, c) => addTitle(0, c, t));
addTitle(1, 1, factorTitles[1]);
addTitle(2, 1, factorTitles[2]);

const chart = echarts.init(document.getElementById('chart'), null, { renderer: 'svg', width: 1262, height: 768 });
chart.setOption({
  backgroundColor: '#ffffff',
  animation: false,
  title: titles,
  grid: grids,
  xAxis: xAxes,
  yAxis: yAxes,
  series: series
});
</script>
</body>
</html>
